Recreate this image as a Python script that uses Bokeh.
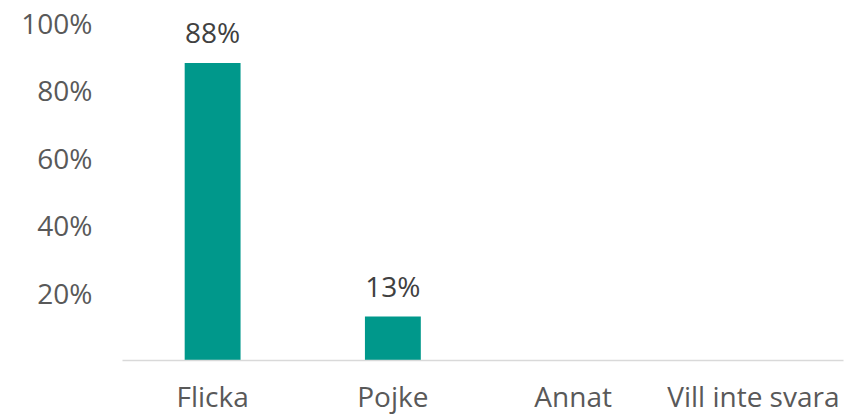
from bokeh.plotting import figure
from bokeh.models import ColumnDataSource, FactorRange, Range1d, FixedTicker, LabelSet
from bokeh.core.properties import value
from bokeh.embed import file_html
from bokeh.resources import INLINE

categories = ["Flicka", "Pojke", "Annat", "Vill inte svara"]
values = [88, 13, 0, 0]
y_ticks = [20, 40, 60, 80, 100]

labels = [f"{v}%" if v > 0 else "" for v in values]
src = ColumnDataSource(dict(cat=categories, val=values, lab=labels))

FONT = "Open Sans"
FS = "28px"

p = figure(width=848, height=418, x_range=FactorRange(*categories, range_padding=0),
           y_range=Range1d(0, 100), output_backend="svg", toolbar_location=None,
           min_border_left=122, min_border_right=5, min_border_top=22, min_border_bottom=58)
p.x_range.factor_padding = 0
p.vbar(x="cat", top="val", width=0.31, source=src, color="#00988B", line_color=None)

lbl = LabelSet(x="cat", y="val", text="lab", source=src, text_align="center",
               text_baseline="bottom", y_offset=12, text_font=value(FONT),
               text_font_size=FS, text_color="#404040")
p.add_layout(lbl)

p.outline_line_color = None
p.xgrid.grid_line_color = None
p.ygrid.grid_line_color = None
p.background_fill_color = "white"
p.border_fill_color = "white"

p.yaxis.ticker = FixedTicker(ticks=y_ticks)
p.yaxis.major_label_overrides = {t: f"{t}%" for t in y_ticks}
p.yaxis.axis_line_color = None
p.yaxis.major_tick_line_color = None
p.yaxis.minor_tick_line_color = None
p.yaxis.major_label_standoff = 24
p.yaxis.major_label_text_font = FONT
p.yaxis.major_label_text_font_size = FS
p.yaxis.major_label_text_color = "#595959"

p.xaxis.axis_line_color = "#d9d9d9"
p.xaxis.axis_line_width = 1.5
p.xaxis.major_tick_line_color = None
p.xaxis.minor_tick_line_color = None
p.xaxis.major_label_standoff = 10
p.xaxis.major_label_text_font = FONT
p.xaxis.major_label_text_font_size = FS
p.xaxis.major_label_text_color = "#595959"

open("out.html", "w").write(file_html(p, INLINE))
